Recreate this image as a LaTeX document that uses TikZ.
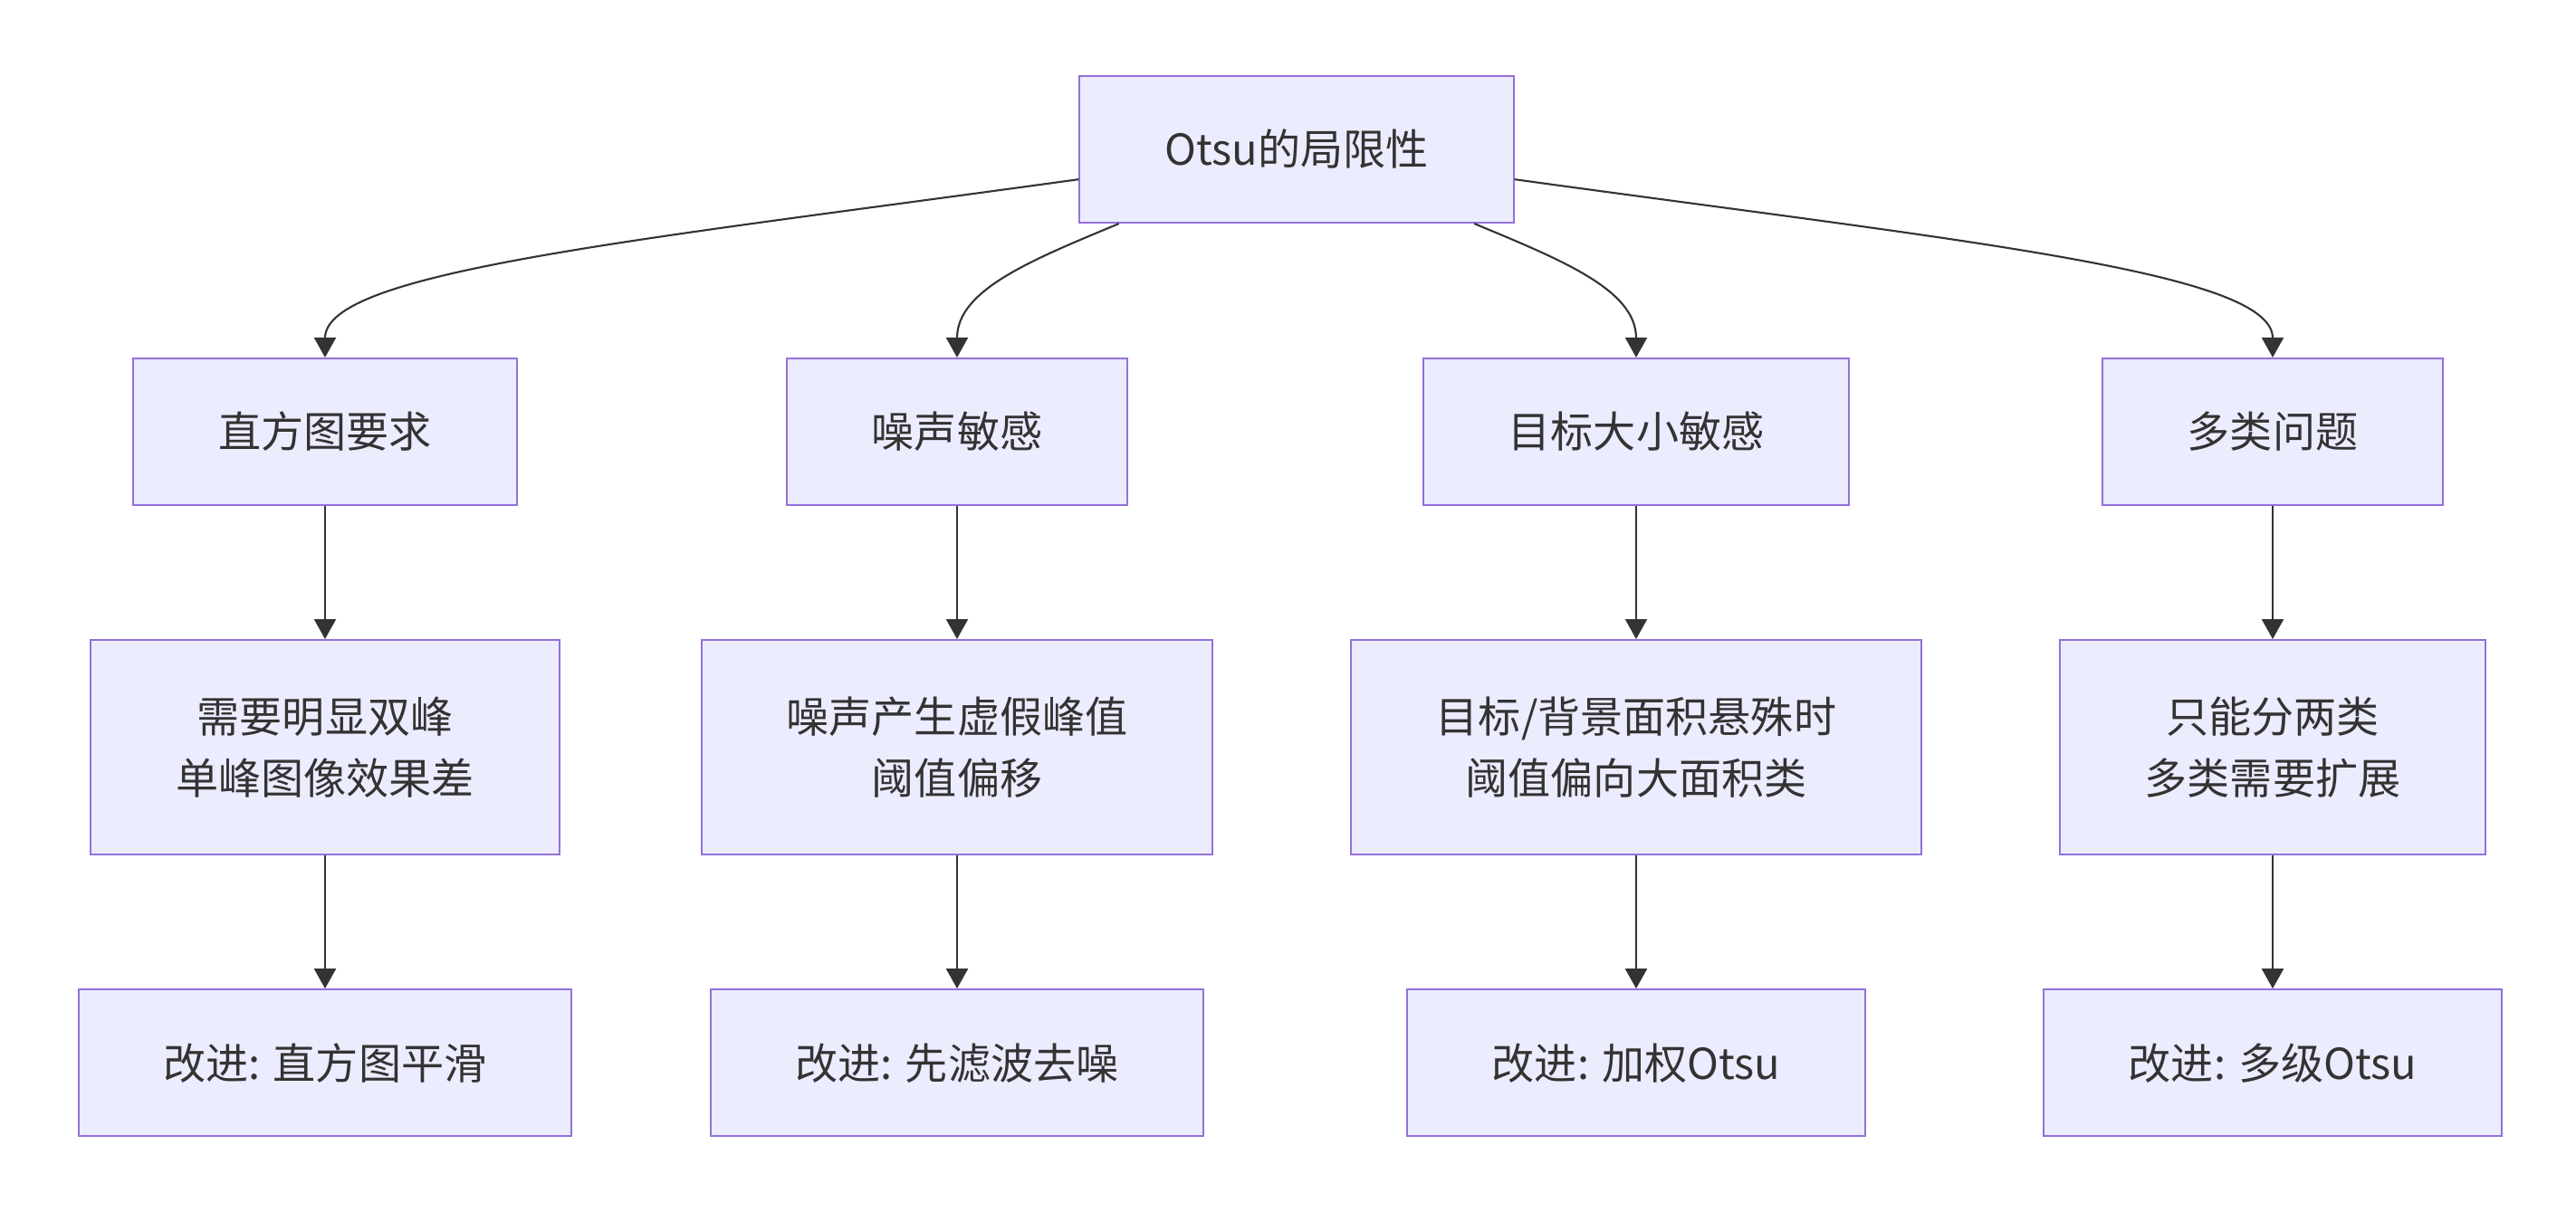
\documentclass[tikz,border=0pt]{standalone}
\usepackage{fontspec}
\setmainfont{Noto Sans CJK SC}
\usepackage{xcolor}
\usepackage{tikz}
\usetikzlibrary{arrows.meta,positioning}
\definecolor{nodefill}{HTML}{ECECFF}
\definecolor{nodeline}{HTML}{9370DB}
\definecolor{inkgray}{HTML}{333333}
\tikzset{
  box/.style={rectangle, draw=nodeline, line width=0.6pt, fill=nodefill, text=inkgray, align=center, inner xsep=0.94cm, minimum height=1.62cm, font=\fontsize{13.4pt}{19.6pt}\selectfont},
  tallbox/.style={box, minimum height=2.37cm},
  arrow/.style={-{Triangle[length=2.2mm, width=2.4mm]}, line width=0.6pt, draw=inkgray}
}
\begin{document}
\begin{tikzpicture}[node distance=1.47cm]
\useasboundingbox[fill=white] (0,0) rectangle (28.45,-13.39);
\node[box] (lim) at (14.32,-1.65) {Otsu的局限性};
% limitations
\node[box] (hist) at (3.59,-4.77) {直方图要求};
\node[box] (noise) at (10.57,-4.77) {噪声敏感};
\node[box] (size) at (18.07,-4.77) {目标大小敏感};
\node[box] (multi) at (25.10,-4.77) {多类问题};
% reasons
\node[tallbox, below=of hist] (histr) {需要明显双峰\\单峰图像效果差};
\node[tallbox, below=of noise] (noiser) {噪声产生虚假峰值\\阈值偏移};
\node[tallbox, below=of size] (sizer) {目标/背景面积悬殊时\\阈值偏向大面积类};
\node[tallbox, below=of multi] (multir) {只能分两类\\多类需要扩展};
% improvements
\node[box, below=of histr] (histi) {改进: 直方图平滑};
\node[box, below=of noiser] (noisei) {改进: 先滤波去噪};
\node[box, below=of sizer] (sizei) {改进: 加权Otsu};
\node[box, below=of multir] (multii) {改进: 多级Otsu};
\draw[arrow] (lim) .. controls (7.00,-2.66) and (3.59,-3.00) .. (hist);
\draw[arrow] (lim) .. controls (11.40,-2.87) and (10.57,-3.20) .. (noise);
\draw[arrow] (lim) .. controls (17.24,-2.87) and (18.07,-3.20) .. (size);
\draw[arrow] (lim) .. controls (21.64,-2.66) and (25.10,-3.00) .. (multi);
\draw[arrow] (hist) -- (histr); \draw[arrow] (histr) -- (histi);
\draw[arrow] (noise) -- (noiser); \draw[arrow] (noiser) -- (noisei);
\draw[arrow] (size) -- (sizer); \draw[arrow] (sizer) -- (sizei);
\draw[arrow] (multi) -- (multir); \draw[arrow] (multir) -- (multii);
\end{tikzpicture}
\end{document}
